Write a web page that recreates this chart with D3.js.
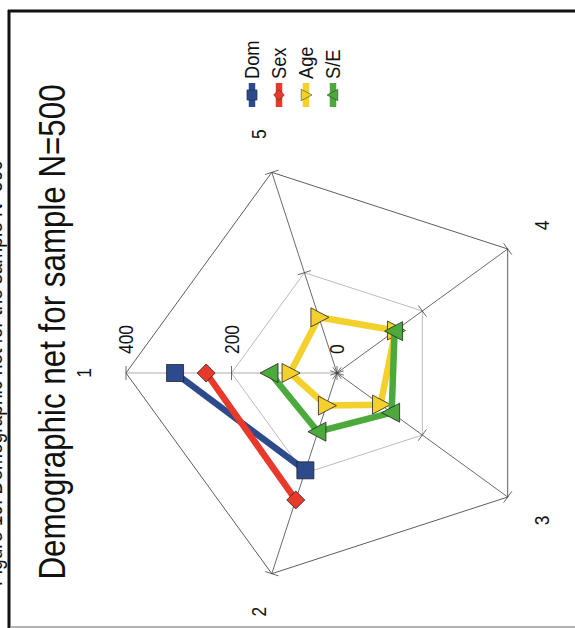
<!DOCTYPE html>
<html><head><meta charset="utf-8">
<script src="https://cdn.jsdelivr.net/npm/d3@7/dist/d3.min.js"></script>
<style>
body{margin:0;background:#fff}
svg{display:block}
text{font-family:"Liberation Sans",Arial,Helvetica,sans-serif;fill:#111}
</style>
</head><body>
<svg id="chart" width="575" height="628"></svg>
<script>
// ---- data ----
const axisLabels = ["1", "2", "3", "4", "5"];
const tickValues = [0, 200, 400];
const seriesNames = ["Dom", "Sex", "Age", "S/E"];
const domValues = [307, 194, null, null, null];
const sexValues = [248, 253, null, null, null];
const ageValues = [89, 65, 102, 137, 111];
const seValues  = [127, 117, 128, 135, null];
const titleText = "Demographic net for sample N=500";
const cutCaption = "Figure 10: Demographic net for the sample N=500";

// ---- styles ----
const colors = {"Dom": "#2c4a8c", "Sex": "#e8392b", "Age": "#f3d02c", "S/E": "#4caa3c"};
const markers = {"Dom": "square", "Sex": "diamond", "Age": "triR", "S/E": "triL"};
const series = [
  {name: "Dom", values: domValues},
  {name: "Sex", values: sexValues},
  {name: "Age", values: ageValues},
  {name: "S/E", values: seValues}
];

const svg = d3.select("#chart");
const cx = 337, cy = 373;
const r = d3.scaleLinear().domain([0, 400]).range([0, 211]);
const angle = d3.scaleLinear().domain([0, axisLabels.length]).range([Math.PI, -Math.PI]);
const pt = (i, v) => [cx + r(v) * Math.cos(angle(i)), cy + r(v) * Math.sin(angle(i))];
const TS = 0.87; // text condense factor

function rtext(x, y, str, size, anchor, extra) {
  const t = svg.append("text")
    .attr("transform", `translate(${x},${y}) rotate(-90) scale(${TS},1)`)
    .attr("text-anchor", anchor || "middle")
    .style("font-size", size + "px")
    .text(str);
  if (extra) extra(t);
  return t;
}

// frame
svg.append("line").attr("x1", 9).attr("y1", 10).attr("x2", 9).attr("y2", 628).attr("stroke", "#111").attr("stroke-width", 3);
svg.append("line").attr("x1", 8).attr("y1", 11).attr("x2", 575).attr("y2", 11).attr("stroke", "#111").attr("stroke-width", 3);
svg.append("line").attr("x1", 10).attr("y1", 627).attr("x2", 575).attr("y2", 627).attr("stroke", "#999").attr("stroke-width", 1.5);

// cut-off caption at the far left (only its lower edge shows in the reference)
rtext(2, 160, cutCaption, 22, "end");

// title
rtext(65, 332, titleText, 36, "middle");

// grid rings
const ringLine = d3.line().curve(d3.curveLinearClosed);
tickValues.filter(v => v > 0).forEach(v => {
  svg.append("path")
    .attr("d", ringLine(axisLabels.map((a, i) => pt(i, v))))
    .attr("fill", "none")
    .attr("stroke", v === 400 ? "#333" : "#aaa")
    .attr("stroke-width", 0.8);
});

// spokes
axisLabels.forEach((a, i) => {
  const [x2, y2] = pt(i, 400);
  svg.append("line").attr("x1", cx).attr("y1", cy).attr("x2", x2).attr("y2", y2)
    .attr("stroke", i === 0 ? "#999" : "#444").attr("stroke-width", 0.8);
  // tick marks
  tickValues.forEach(v => {
    const [px, py] = pt(i, v);
    const a2 = angle(i) + Math.PI / 2;
    const h = 7;
    svg.append("line")
      .attr("x1", px - h * Math.cos(a2)).attr("y1", py - h * Math.sin(a2))
      .attr("x2", px + h * Math.cos(a2)).attr("y2", py + h * Math.sin(a2))
      .attr("stroke", "#444").attr("stroke-width", 0.8);
  });
  // axis category labels
  const ang = angle(i);
  rtext(cx + (r(400) + 42) * Math.cos(ang), cy + (r(400) + 40) * Math.sin(ang), a, 20, "middle",
        t => t.attr("dy", "0.35em"));
});

// tick labels along axis 1
tickValues.forEach(v => {
  const [px] = pt(0, v);
  rtext(px, cy - 19, String(v), 20, "start", t => t.attr("dy", "0.35em"));
});

// marker shapes
function drawMarker(g, type, x, y, color) {
  let d;
  if (type === "square") d = `M${x-8.5},${y-8.5}h17v17h-17z`;
  else if (type === "diamond") d = `M${x},${y-9}L${x+9},${y}L${x},${y+9}L${x-9},${y}z`;
  else if (type === "triR") d = `M${x+10},${y}L${x-8},${y-9.5}L${x-8},${y+9.5}z`;
  else d = `M${x-10},${y}L${x+8},${y-9.5}L${x+8},${y+9.5}z`;
  return g.append("path").attr("d", d).attr("fill", color).attr("stroke", "#222").attr("stroke-width", 0.8);
}

// series
const lineGen = d3.line().defined(d => d.v !== null).x(d => d.x).y(d => d.y);
series.forEach(s => {
  const pts = s.values.map((v, i) => {
    const p = v === null ? [0, 0] : pt(i, v);
    return {v: v, x: p[0], y: p[1]};
  });
  const closed = pts.concat([pts[0]]);
  const g = svg.append("g");
  g.append("path").attr("d", lineGen(closed))
    .attr("fill", "none").attr("stroke", colors[s.name]).attr("stroke-width", 6.5)
    .attr("stroke-linejoin", "round");
  pts.filter(p => p.v !== null).forEach(p => drawMarker(g, markers[s.name], p.x, p.y, colors[s.name]));
});

// legend
const legendX = d3.scalePoint().domain(seriesNames).range([252, 333]);
seriesNames.forEach(n => {
  const x = legendX(n);
  svg.append("line").attr("x1", x).attr("y1", 83).attr("x2", x).attr("y2", 107)
    .attr("stroke", colors[n]).attr("stroke-width", 6.5);
  const g = svg.append("g");
  drawMarker(g, markers[n], x, 95, colors[n])
    .attr("transform", `translate(${x},95) scale(0.6) translate(${-x},-95)`);
  rtext(x, 79, n, 21, "start", t => t.attr("dy", "0.35em"));
});
</script>
</body></html>
